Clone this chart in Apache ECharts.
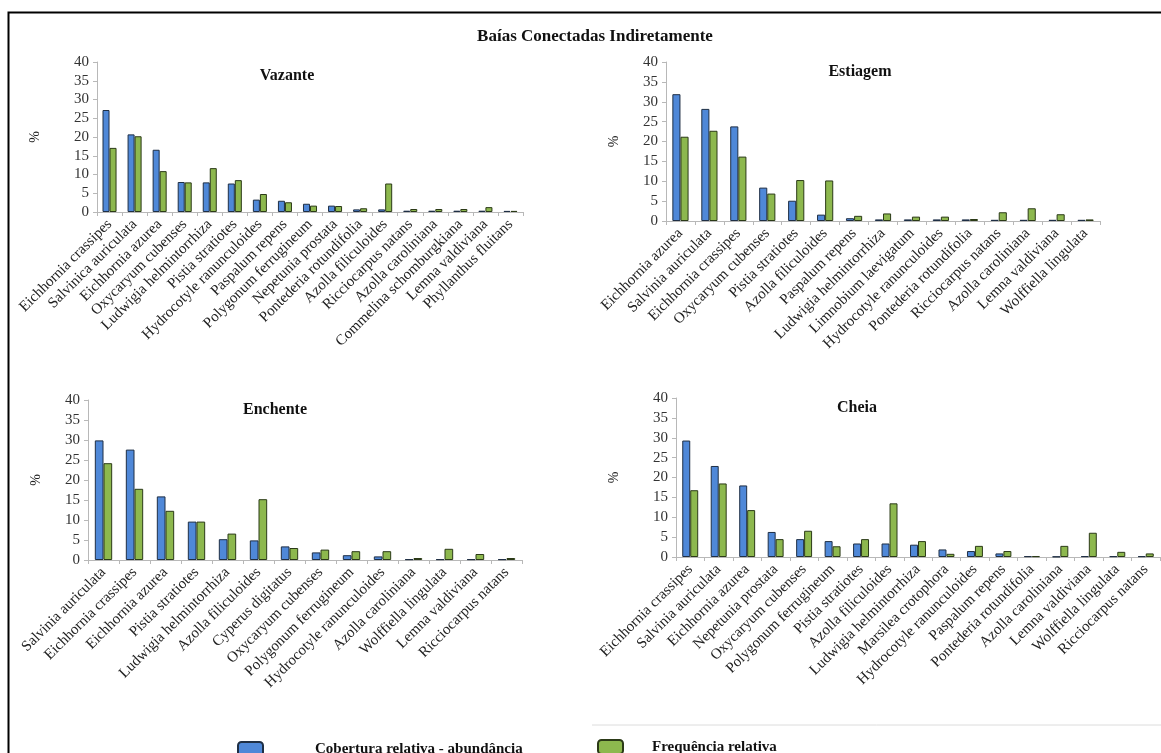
<!DOCTYPE html>
<html>
<head>
<meta charset="utf-8">
<script src="https://cdn.jsdelivr.net/npm/echarts@6/dist/echarts.min.js"></script>
<style>
  html, body { margin: 0; padding: 0; background: #fff; }
  #chart { width: 1161px; height: 753px; }
</style>
</head>
<body>
<div id="chart"></div>
<script>
// Vazante
const vazanteCats = ['Eichhornia crassipes', 'Salvinica auriculata', 'Eichhornia azurea', 'Oxycaryum cubenses',
  'Ludwigia helmintorrhiza', 'Pistia stratiotes', 'Hydrocotyle ranunculoides', 'Paspalum repens',
  'Polygonum ferrugineum', 'Nepetunia prostata', 'Pontederia rotundifolia', 'Azolla filiculoides',
  'Ricciocarpus natans', 'Azolla caroliniana', 'Commelina schomburgkiana', 'Lemna valdiviana', 'Phyllanthus fluitans'];
const vazanteCob = [27.2, 20.7, 16.6, 8.0, 7.9, 7.6, 3.3, 3.0, 2.2, 1.7, 0.7, 0.7, 0.35, 0.35, 0.35, 0.35, 0.3];
const vazanteFreq = [17.1, 20.2, 10.9, 7.9, 11.7, 8.5, 4.8, 2.6, 1.7, 1.6, 1.0, 7.6, 0.8, 0.8, 0.8, 1.3, 0.3];

// Estiagem
const estiagemCats = ['Eichhornia azurea', 'Salvinia auriculata', 'Eichhornia crassipes', 'Oxycaryum cubenses',
  'Pistia stratiotes', 'Azolla filiculoides', 'Paspalum repens', 'Ludwigia helmintorrhiza',
  'Limnobium laevigatum', 'Hydrocotyle ranunculoides', 'Pontederia rotundifolia', 'Ricciocarpus natans',
  'Azolla caroliniana', 'Lemna valdiviana', 'Wolffiella lingulata'];
const estiagemCob = [31.9, 28.2, 23.8, 8.4, 5.1, 1.6, 0.7, 0.4, 0.4, 0.4, 0.4, 0.3, 0.3, 0.3, 0.3];
const estiagemFreq = [21.2, 22.7, 16.2, 6.9, 10.3, 10.2, 1.3, 1.9, 1.1, 1.1, 0.5, 2.2, 3.2, 1.7, 0.4];

// Enchente
const enchenteCats = ['Salvinia auriculata', 'Eichhornia crassipes', 'Eichhornia azurea', 'Pistia stratiotes',
  'Ludwigia helmintorrhiza', 'Azolla filiculoides', 'Cyperus digitatus', 'Oxycaryum cubenses',
  'Polygonum ferrugineum', 'Hydrocotyle ranunculoides', 'Azolla caroliniana', 'Wolffiella lingulata',
  'Lemna valdiviana', 'Ricciocarpus natans'];
const enchenteCob = [29.9, 27.6, 15.9, 9.6, 5.2, 4.9, 3.4, 1.9, 1.2, 0.9, 0.2, 0.2, 0.2, 0.2];
const enchenteFreq = [24.2, 17.8, 12.3, 9.6, 6.6, 15.2, 3.0, 2.6, 2.2, 2.2, 0.5, 2.8, 1.5, 0.5];

// Cheia
const cheiaCats = ['Eichhornia crassipes', 'Salvinia auriculata', 'Eichhornia azurea', 'Nepetunia prostata',
  'Oxycaryum cubenses', 'Polygonum ferrugineum', 'Pistia stratiotes', 'Azolla filiculoides',
  'Ludwigia helmintorrhiza', 'Marsilea crotophora', 'Hydrocotyle ranunculoides', 'Paspalum repens',
  'Pontederia rotundifolia', 'Azolla caroliniana', 'Lemna valdiviana', 'Wolffiella lingulata', 'Ricciocarpus natans'];
const cheiaCob = [29.3, 22.9, 18.0, 6.3, 4.5, 4.0, 3.4, 3.4, 3.1, 1.9, 1.5, 0.9, 0.2, 0.1, 0.2, 0.2, 0.2];
const cheiaFreq = [16.8, 18.5, 11.8, 4.5, 6.6, 2.7, 4.5, 13.5, 4.0, 0.8, 2.8, 1.5, 0.2, 2.8, 6.1, 1.3, 0.9];

const panelTitles = ['Vazante', 'Estiagem', 'Enchente', 'Cheia'];
const seriesNames = ['Cobertura relativa - abundância', 'Frequência relativa'];

const serif = '"Liberation Serif", "DejaVu Serif", serif';
const blue = '#4f88d8';
const green = '#8db84e';
const axisGray = '#b8b8b8';

const panels = [
  { cats: vazanteCats, cob: vazanteCob, freq: vazanteFreq,
    grid: { left: 97, top: 62, width: 426, height: 150 }, title: [282, 63], nameGap: 55 },
  { cats: estiagemCats, cob: estiagemCob, freq: estiagemFreq,
    grid: { left: 666, top: 62, width: 434, height: 159 }, title: [855, 59], nameGap: 45 },
  { cats: enchenteCats, cob: enchenteCob, freq: enchenteFreq,
    grid: { left: 88, top: 400, width: 434, height: 160 }, title: [270, 397], nameGap: 45 },
  { cats: cheiaCats, cob: cheiaCob, freq: cheiaFreq,
    grid: { left: 676, top: 398, width: 484, height: 159 }, title: [852, 395], nameGap: 55 }
];

const chart = echarts.init(document.getElementById('chart'), null, { renderer: 'canvas' });

const option = {
  backgroundColor: '#fff',
  animation: false,
  textStyle: { fontFamily: serif, color: '#222' },
  title: [
    { text: 'Baías Conectadas Indiretamente', left: 590, top: 23, textAlign: 'center',
      textStyle: { fontFamily: serif, fontSize: 17, fontWeight: 'bold', color: '#111' } }
  ].concat(panels.map((p, i) => ({
    text: panelTitles[i], left: p.title[0], top: p.title[1], textAlign: 'center',
    textStyle: { fontFamily: serif, fontSize: 16, fontWeight: 'bold', color: '#111' }
  }))),
  legend: [
    { data: [seriesNames[0]], left: 232, top: 736, itemWidth: 25, itemHeight: 14,
      textStyle: { fontFamily: serif, fontSize: 15, fontWeight: 'bold', color: '#111', padding: [0, 0, 0, 47] } },
    { data: [seriesNames[1]], left: 592, top: 734, itemWidth: 25, itemHeight: 14,
      textStyle: { fontFamily: serif, fontSize: 15, fontWeight: 'bold', color: '#111', padding: [0, 0, 0, 24] } }
  ],
  graphic: [
    { type: 'rect', shape: { x: 8.5, y: 12.5, width: 1160, height: 760 },
      style: { fill: 'none', stroke: '#000', lineWidth: 2 }, silent: true },
    { type: 'line', shape: { x1: 592, y1: 725, x2: 1161, y2: 725 },
      style: { stroke: '#dcdcdc', lineWidth: 1 }, silent: true }
  ],
  grid: panels.map(p => Object.assign({ containLabel: false }, p.grid)),
  xAxis: panels.map((p, i) => ({
    type: 'category', gridIndex: i, data: p.cats,
    axisLine: { lineStyle: { color: axisGray } },
    axisTick: { show: true, length: 4, lineStyle: { color: axisGray } },
    axisLabel: { interval: 0, rotate: 45, margin: 10, fontFamily: serif, fontSize: 15, color: '#222' }
  })),
  yAxis: panels.map((p, i) => ({
    type: 'value', gridIndex: i, min: 0, max: 40, interval: 5,
    name: '%', nameLocation: 'middle', nameRotate: 90, nameGap: p.nameGap,
    nameTextStyle: { fontFamily: serif, fontSize: 14, color: '#222' },
    axisLine: { show: true, lineStyle: { color: axisGray } },
    axisTick: { show: true, length: 4, lineStyle: { color: axisGray } },
    splitLine: { show: false },
    axisLabel: { fontFamily: serif, fontSize: 15, color: '#333', margin: 8 }
  })),
  series: panels.flatMap((p, i) => [
    { name: seriesNames[0], type: 'bar', xAxisIndex: i, yAxisIndex: i, data: p.cob,
      barGap: '0%', barCategoryGap: '44%',
      itemStyle: { color: blue, borderColor: '#1f2f45', borderWidth: 1 } },
    { name: seriesNames[1], type: 'bar', xAxisIndex: i, yAxisIndex: i, data: p.freq,
      itemStyle: { color: green, borderColor: '#2b3a17', borderWidth: 1 } }
  ])
};

chart.setOption(option);
</script>
</body>
</html>
